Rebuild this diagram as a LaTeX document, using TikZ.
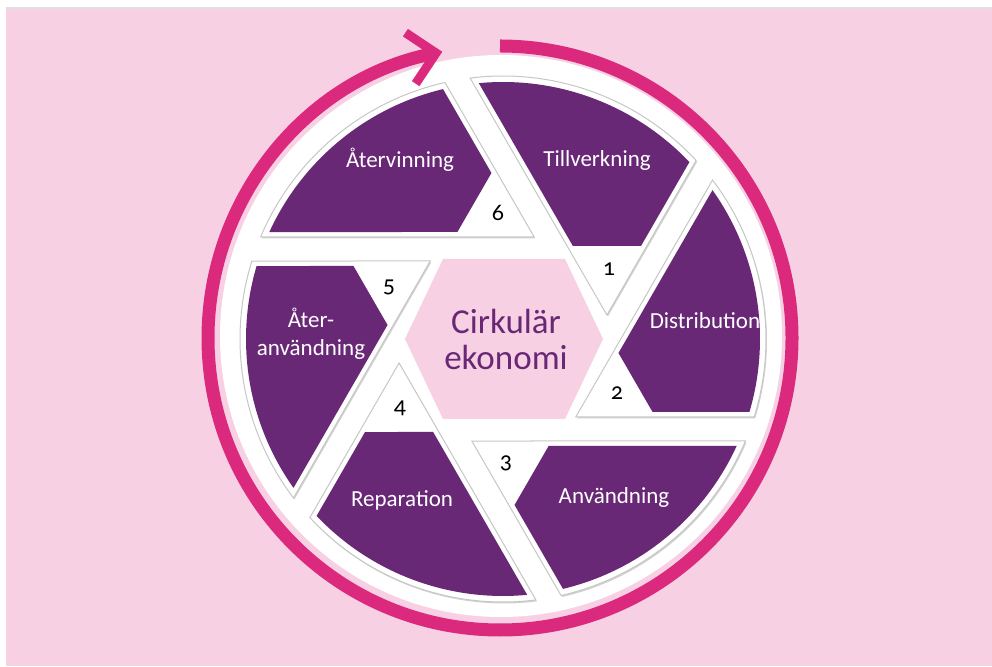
\documentclass[tikz,border=0pt]{standalone}
\usepackage{fontspec}
\setmainfont{Carlito}
\newfontfamily\numfont{Carlito}[Numbers=OldStyle]
\usetikzlibrary{arrows.meta, shadows}

\definecolor{bgpink}{RGB}{247,209,227}
\definecolor{bladepurple}{RGB}{104,40,118}
\definecolor{ringmagenta}{RGB}{219,42,126}

\tikzset{
  blade/.style={fill=white, draw=black!22, line width=1pt,
    drop shadow={shadow xshift=1pt, shadow yshift=-1.5pt, opacity=0.35}},
  bladelbl/.style={text=white, font=\fontsize{23}{28}\selectfont, align=center},
  numlbl/.style={text=black, font=\numfont\fontsize{24}{26}\selectfont},
}

\begin{document}
\begin{tikzpicture}[x=1pt, y=1pt]
  \useasboundingbox (0,0) rectangle (992,666);
  % background
  \fill[bgpink] (6,0) rectangle (992,658);
  \draw[black!12, line width=1.2pt] (6,658) -- (992,658);

  \coordinate (hub) at (503,327);
  \coordinate (ringc) at (500,328);

  % white disc
  \fill[white] (501,330) circle[radius=281];

  % cycle arrow
  \draw[ringmagenta, line width=13pt, -{Straight Barb[length=26pt, width=52pt, line width=9pt]}]
    ([shift={(90:292)}]ringc) arc[start angle=90, end angle=-258.6, radius=292];

  % six blades
  \foreach \rot in {60,0,-60,-120,180,120} {
    \begin{scope}[shift={(hub)}, rotate=\rot]
      \path[blade] (72.75,-78) -- (-17.25:263) arc[start angle=-17.25, end angle=37.18, radius=263] -- cycle;
      \fill[bladepurple] (149.54,-73) -- (-16.50:257) arc[start angle=-16.50, end angle=35.40, radius=257] -- (115.47,-14) -- cycle;
    \end{scope}
  }

  % centre hexagon
  \fill[bgpink] (443,407) -- (565,407) -- (603,327) -- (565,247) -- (443,247) -- (405,327) -- cycle;
  \node[text=bladepurple, font=\fontsize{35}{36}\selectfont, align=center] (core) at (506,327) {Cirkulär\\ekonomi};

  % blade labels
  \node[bladelbl] (tillv) at (597,506) {Tillverkning};
  \node[bladelbl] (distr) at (705,345) {Distribution};
  \node[bladelbl] (anvand) at (614,169) {Användning};
  \node[bladelbl] (repar) at (402,166) {Reparation};
  \node[bladelbl] (ateranv) at (311,332) {Åter-\\användning};
  \node[bladelbl] (atervin) at (400,506) {Återvinning};

  % step numbers
  \foreach \num/\x/\y in {1/609/397, 2/617/273, 3/506/203, 4/400/258, 5/389/379, 6/498/453}
    \node[numlbl] (step\num) at (\x,\y) {\num};
\end{tikzpicture}
\end{document}
